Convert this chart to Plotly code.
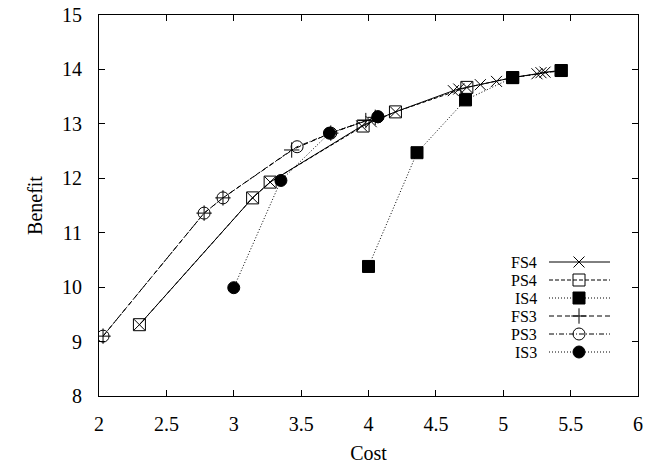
import plotly.graph_objects as go

# ---- data ----
fs4_cost = [2.30, 3.14, 3.27, 3.95, 4.02, 4.20, 4.63, 4.67, 4.73, 4.83, 4.95, 5.07, 5.25, 5.28, 5.31, 5.43]
fs4_benefit = [9.31, 11.64, 11.93, 12.96, 13.04, 13.22, 13.61, 13.64, 13.67, 13.72, 13.78, 13.85, 13.92, 13.94, 13.95, 13.98]

ps4_cost = [2.30, 3.14, 3.27, 3.96, 4.20, 4.73, 5.07, 5.43]
ps4_benefit = [9.31, 11.64, 11.93, 12.96, 13.22, 13.67, 13.85, 13.98]

is4_cost = [4.00, 4.36, 4.72, 5.07, 5.43]
is4_benefit = [10.38, 12.47, 13.44, 13.85, 13.98]

fs3_cost = [2.03, 2.78, 2.92, 3.43, 3.72, 3.98, 4.05]
fs3_benefit = [9.10, 11.36, 11.64, 12.52, 12.83, 13.06, 13.12]

ps3_cost = [2.03, 2.78, 2.92, 3.47, 3.72, 4.07]
ps3_benefit = [9.10, 11.36, 11.64, 12.58, 12.83, 13.13]

is3_cost = [3.00, 3.35, 3.71, 4.07]
is3_benefit = [9.99, 11.96, 12.83, 13.13]

series_names = ["FS4", "PS4", "IS4", "FS3", "PS3", "IS3"]

FONT = "Liberation Serif, Times New Roman, serif"

styles = {
    "FS4": dict(dash="solid", symbol="x-thin-open", size=11),
    "PS4": dict(dash="4px,2px", symbol="square-open", size=12),
    "IS4": dict(dash="1px,2px", symbol="square", size=12),
    "FS3": dict(dash="5px,3px", symbol="cross-thin-open", size=11),
    "PS3": dict(dash="5px,2px,1px,2px", symbol="circle-open", size=12),
    "IS3": dict(dash="1px,2px", symbol="circle", size=12),
}

data = {
    "FS4": (fs4_cost, fs4_benefit),
    "PS4": (ps4_cost, ps4_benefit),
    "IS4": (is4_cost, is4_benefit),
    "FS3": (fs3_cost, fs3_benefit),
    "PS3": (ps3_cost, ps3_benefit),
    "IS3": (is3_cost, is3_benefit),
}

fig = go.Figure()
for name in series_names:
    xs, ys = data[name]
    st = styles[name]
    fig.add_trace(go.Scatter(
        x=xs, y=ys, mode="lines+markers", name=name, showlegend=False,
        line=dict(color="black", width=1, dash=st["dash"]),
        marker=dict(symbol=st["symbol"], size=st["size"], color="black",
                    line=dict(color="black", width=1)),
    ))

# ---- custom gnuplot-style legend (text then sample) on a hidden overlay axis ----
# overlay axis range in pixel units of the plot area (539 x 381)
row_y = [134, 116, 98, 80, 62, 44]
for name, yy in zip(series_names, row_y):
    st = styles[name]
    fig.add_trace(go.Scatter(
        x=[450, 511], y=[yy, yy], mode="lines", xaxis="x2", yaxis="y2",
        showlegend=False, hoverinfo="skip",
        line=dict(color="black", width=1, dash=st["dash"]),
    ))
    fig.add_trace(go.Scatter(
        x=[480], y=[yy], mode="markers", xaxis="x2", yaxis="y2",
        showlegend=False, hoverinfo="skip",
        marker=dict(symbol=st["symbol"], size=st["size"], color="black",
                    line=dict(color="black", width=1)),
    ))
    fig.add_annotation(x=439, y=yy, xref="x2", yref="y2", text=name,
                       showarrow=False, xanchor="right", yanchor="middle",
                       borderpad=0,
                       font=dict(family=FONT, size=16, color="black"))

axis_common = dict(
    showgrid=False, zeroline=False, showline=True, linecolor="black", linewidth=1,
    mirror="ticks", ticks="inside", ticklen=6, tickcolor="black", tickwidth=1,
    tickfont=dict(family=FONT, size=20, color="black"), automargin=False,
)

fig.update_layout(
    width=647, height=464,
    margin=dict(l=99, r=9, t=15, b=68),
    paper_bgcolor="white", plot_bgcolor="white",
    showlegend=False,
    xaxis=dict(range=[2, 6], dtick=0.5, tick0=2,
               title=dict(text="Cost", font=dict(family=FONT, size=20, color="black"), standoff=12),
               ticklabelstandoff=10, **axis_common),
    yaxis=dict(range=[8, 15], dtick=1, tick0=8,
               title=dict(text="Benefit", font=dict(family=FONT, size=20, color="black"), standoff=14),
               ticklabelstandoff=12, **axis_common),
    xaxis2=dict(range=[0, 539], overlaying="x", visible=False, fixedrange=True),
    yaxis2=dict(range=[0, 381], overlaying="y", visible=False, fixedrange=True),
)

fig.write_html("out.html")
